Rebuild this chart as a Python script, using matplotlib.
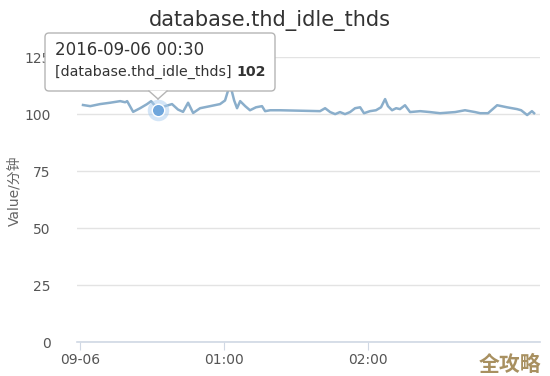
import matplotlib.pyplot as plt
from matplotlib.patches import FancyBboxPatch, Polygon

# minutes after 2016-09-06 00:00 and readings (per minute)
minutes = [1.2, 4.2, 8.3, 12.5, 16.7, 18.8, 19.6, 22.1, 25.0, 27.9, 29.6, 32.5, 35.4, 38.3,
           40.8, 42.9, 45.0, 47.1, 50.0, 54.2, 58.3, 60.4, 61.7, 62.9, 64.2, 65.4, 66.7,
           68.8, 70.8, 73.3, 75.8, 77.1, 79.2, 83.3, 100.0, 102.1, 104.2, 106.3, 108.3,
           110.4, 112.5, 114.6, 116.7, 118.3, 120.8, 123.3, 125.4, 127.1, 128.3, 130.0,
           131.7, 133.3, 135.4, 137.5, 141.7, 145.8, 150.0, 156.3, 160.4, 162.5, 164.6,
           166.7, 170.0, 173.8, 177.9, 182.1, 183.8, 186.3, 188.3, 189.2]
values = [104.0, 103.5, 104.4, 105.0, 105.7, 105.2, 105.7, 101.0, 102.6, 104.4, 105.7,
          102.0, 103.5, 104.4, 102.0, 101.0, 105.0, 100.5, 102.6, 103.5, 104.4, 106.0,
          110.5, 111.4, 106.0, 102.6, 105.7, 103.5, 101.7, 103.0, 103.5, 101.3, 101.7,
          101.7, 101.3, 102.6, 100.9, 100.0, 100.9, 100.0, 100.9, 102.6, 103.0, 100.4,
          101.3, 101.7, 103.0, 106.6, 103.5, 101.7, 102.6, 102.2, 103.9, 100.9, 101.3,
          100.9, 100.4, 100.9, 101.7, 101.3, 100.9, 100.4, 100.4, 103.9, 103.0, 102.2,
          101.7, 99.6, 101.3, 100.4]
y_ticks = [0, 25, 50, 75, 100, 125]
x_ticks = [0, 60, 120]
x_labels = ["09-06", "01:00", "02:00"]
hover_min, hover_val = 32.5, 102
title = "database.thd_idle_thds"

plt.rcParams['font.family'] = ['DejaVu Sans', 'Noto Sans CJK SC']

W, H = 550, 376
fig = plt.figure(figsize=(5.5, 3.76), dpi=100)
ax = fig.add_axes([0.14, 0.0904, 0.842, 0.7576])
ax.set_zorder(0)

ax.plot(minutes, values, color="#8aaecb", lw=1.8, zorder=3)
ax.scatter([hover_min], [hover_val], s=240, color="#a9cdf0", alpha=0.5, lw=0, zorder=4)
ax.scatter([hover_min], [hover_val], s=80, color="#6fa6dc", edgecolor="white", lw=1, zorder=5)

ax.set_xlim(-1.3, 191.7)
ax.set_ylim(0, 125)
ax.set_yticks(y_ticks)
ax.set_yticklabels([str(v) for v in y_ticks])
ax.set_xticks(x_ticks)
ax.set_xticklabels(x_labels)
ax.grid(axis="y", color="#e3e3e3", lw=1)
ax.set_axisbelow(True)
for s in ["top", "right", "left"]:
    ax.spines[s].set_visible(False)
ax.spines["bottom"].set_color("#d0d8e4")
ax.spines["bottom"].set_linewidth(1.2)
ax.tick_params(axis="y", length=0, pad=19, labelsize=10, labelcolor="#555555")
ax.tick_params(axis="x", length=6, color="#d0d8e4", labelsize=10, labelcolor="#555555", pad=2)
ax.set_ylabel("Value/分钟", fontsize=10, color="#666666",
              family=['DejaVu Sans', 'Noto Sans CJK SC'])
ax.yaxis.set_label_coords(-0.121, 0.53)

fig.text(0.49, 0.945, title, ha="center", va="center", fontsize=15, color="#333333")

# tooltip box (display coords, origin bottom-left), drawn over the axes
box = FancyBboxPatch((45, H - 91), 230, 58, boxstyle="round,pad=0,rounding_size=4",
                     transform=None, facecolor="white", edgecolor="#b5b5b5", lw=1, zorder=10)
fig.add_artist(box)
tip = Polygon([(149, H - 90.5), (167, H - 90.5), (158, H - 99)], closed=True,
              transform=None, facecolor="white", edgecolor="none", zorder=11)
fig.add_artist(tip)
for x0, x1 in [(149, 158), (167, 158)]:
    fig.add_artist(plt.Line2D([x0, x1], [H - 91, H - 99], transform=None,
                              color="#b5b5b5", lw=1, zorder=12))
fig.text(55 / W, 1 - 50 / H, "2016-09-06 00:30", fontsize=12, color="#333333",
         va="center", zorder=13)
t = fig.text(55 / W, 1 - 72 / H, "[database.thd_idle_thds] ", fontsize=10.2,
             color="#333333", va="center", zorder=13)
fig.canvas.draw()
bb = t.get_window_extent()
fig.text(bb.x1 / W, 1 - 72 / H, "102", fontsize=10.2, fontweight="bold",
         color="#333333", va="center", zorder=13)

fig.text(0.985, 0.03, "全攻略", ha="right", va="center", fontsize=15, fontweight="bold",
         color="#a89060", family=['Noto Sans CJK SC'])

fig.savefig("out.png", dpi=100)
